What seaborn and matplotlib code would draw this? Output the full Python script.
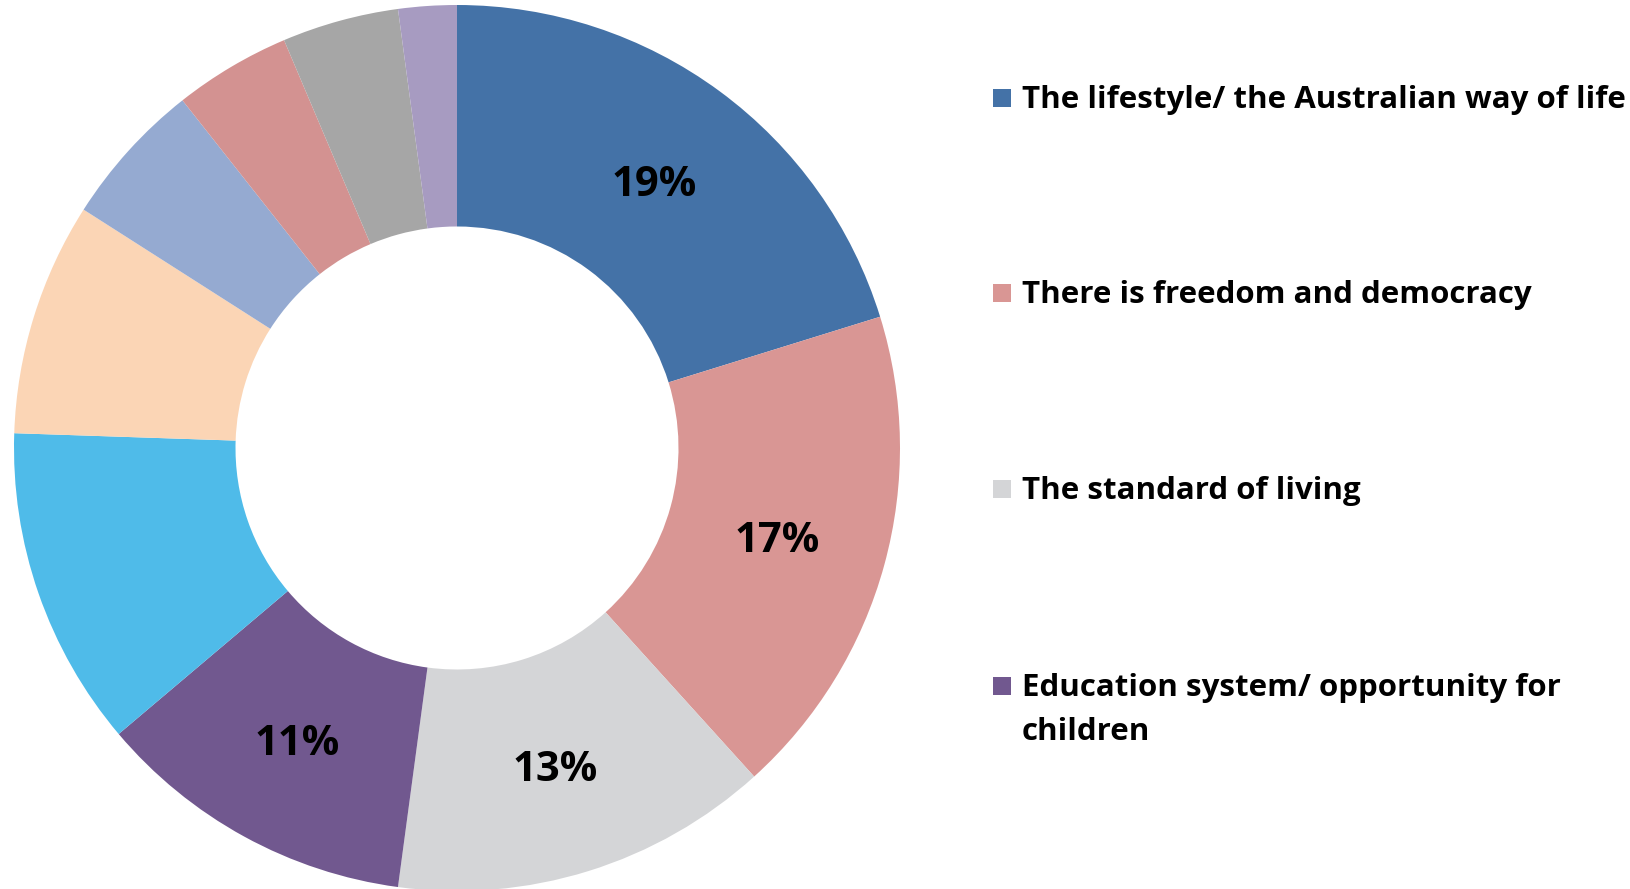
import matplotlib
matplotlib.use("Agg")
import numpy as np
import matplotlib.pyplot as plt
import seaborn as sns
from matplotlib.patches import Rectangle

sns.set_theme(style="white")
plt.rcParams["font.family"] = ["Open Sans", "DejaVu Sans"]

# Share of responses per reason (percent of respondents)
values = [19, 17, 13, 11, 11, 8, 5, 4, 4, 2]
colors = ["#4472A7", "#D99694", "#D4D5D7", "#71588F", "#4FBBE9",
          "#FBD5B5", "#95AAD1", "#D39291", "#A6A6A6", "#A79BC1"]
legend_labels = [
    "The lifestyle/ the Australian way of life",
    "There is freedom and democracy",
    "The standard of living",
    "Education system/ opportunity for\nchildren",
]
n_labelled = 4

W, H = 1631, 889
fig = plt.figure(figsize=(W / 100, H / 100), dpi=100)

cx, cy, r = 457, 448, 443
ax = fig.add_axes([(cx - r) / W, (H - cy - r) / H, 2 * r / W, 2 * r / H])

wedges, _ = ax.pie(values, colors=colors, startangle=90, counterclock=False,
                   radius=1.0, wedgeprops=dict(width=0.5, linewidth=0))
ax.set_xlim(-1, 1)
ax.set_ylim(-1, 1)
ax.set_aspect("equal")
ax.axis("off")

# Value labels on the four largest segments, centred in the ring
for w, v in zip(wedges[:n_labelled], values[:n_labelled]):
    ang = np.deg2rad((w.theta1 + w.theta2) / 2)
    ax.text(0.75 * np.cos(ang), 0.75 * np.sin(ang) - 0.012, f"{v}%",
            ha="center", va="center", fontsize=30, fontweight="bold",
            color="black")

# Legend for the labelled segments
legend_y = [98, 293, 489, 686]
sq = 18
for lab, col, y in zip(legend_labels, colors, legend_y):
    fig.add_artist(Rectangle((993 / W, (H - y - sq / 2) / H), sq / W, sq / H,
                             transform=fig.transFigure, facecolor=col,
                             edgecolor="none"))
    fig.text(1022 / W, (H - y + 13) / H, lab, ha="left", va="top",
             fontsize=22.5, fontweight="bold", color="black",
             linespacing=1.6)

fig.savefig("out.png", dpi=100)
